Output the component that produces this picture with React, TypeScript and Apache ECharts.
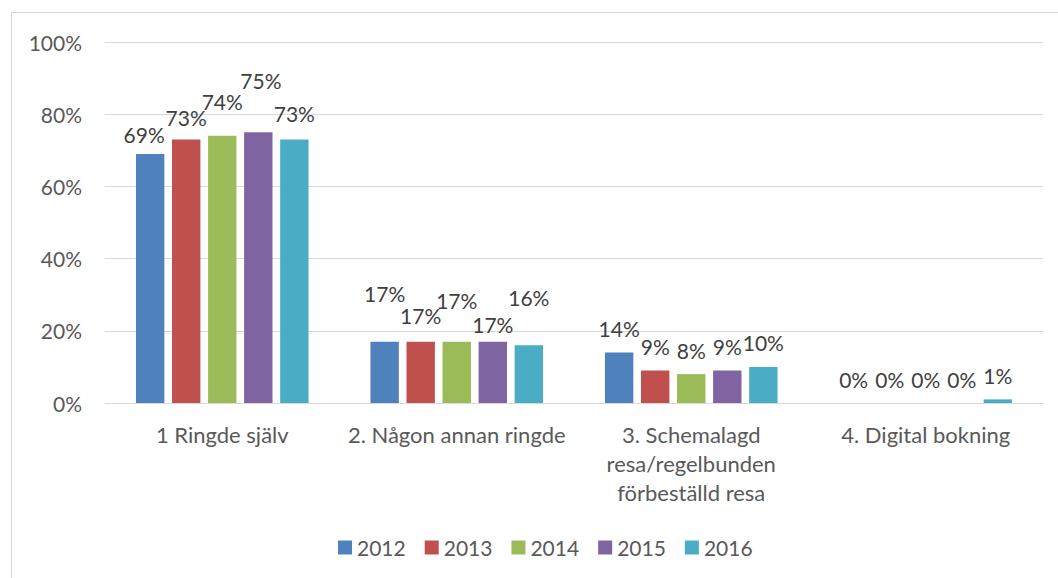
import React, { useEffect, useRef } from "react";
import * as echarts from "echarts";

const categories = [
  "1 Ringde själv",
  "2. Någon annan ringde",
  "3. Schemalagd\nresa/regelbunden\nförbeställd resa",
  "4. Digital bokning",
];
const years = ["2012", "2013", "2014", "2015", "2016"];
const v2012 = [69, 17, 14, 0];
const v2013 = [73, 17, 9, 0];
const v2014 = [74, 17, 8, 0];
const v2015 = [75, 17, 9, 0];
const v2016 = [73, 16, 10, 1];
const yTicks = [0, 20, 40, 60, 80, 100];

const seriesValues = [v2012, v2013, v2014, v2015, v2016];
const colors = ["#4F81BD", "#C0504D", "#9BBB59", "#8064A2", "#4BACC6"];

// manual data-label nudges (layout, per series per category) [dx, dy]
const labelShift: number[][][] = [
  [[-6, 5], [0, -24], [0, 0], [0, 0]],
  [[0, 2.5], [0, -2], [0, 0], [0, 0]],
  [[0, -10], [0, -17], [0, 0], [0, 0]],
  [[2.6, -28], [0, 7], [0, 0], [0, 0]],
  [[0, -1.5], [0, -24], [0, 0], [0, 0]],
];

const FONT = "Lato";

export default function App() {
  const ref = useRef<HTMLDivElement>(null);
  useEffect(() => {
    document.body.style.margin = "0";
    const chart = echarts.init(ref.current!, null, { renderer: "svg" });
    chart.setOption({
      animation: false,
      backgroundColor: "#ffffff",
      textStyle: { fontFamily: FONT },
      graphic: [
        {
          type: "rect",
          shape: { x: 11.5, y: 12.5, width: 1100, height: 700 },
          style: { fill: "none", stroke: "#D9D9D9", lineWidth: 1 },
          silent: true,
        },
      ],
      grid: { left: 105, right: 15, top: 42, bottom: 175, containLabel: false },
      legend: {
        data: years,
        left: 333,
        top: 532,
        icon: "rect",
        itemWidth: 14,
        itemHeight: 14,
        itemGap: 19,
        textStyle: { color: "#595959", fontSize: 21, fontFamily: FONT },
      },
      xAxis: {
        type: "category",
        data: categories,
        axisLine: { lineStyle: { color: "#D9D9D9", width: 1 } },
        axisTick: { show: false },
        axisLabel: {
          interval: 0,
          color: "#595959",
          fontSize: 22,
          lineHeight: 29,
          margin: 17,
          fontFamily: FONT,
        },
      },
      yAxis: {
        type: "value",
        min: 0,
        max: 100,
        interval: 20,
        axisLine: { show: false },
        axisTick: { show: false },
        splitLine: { lineStyle: { color: "#D9D9D9", width: 1 } },
        axisLabel: {
          color: "#595959",
          fontSize: 21,
          margin: 23,
          fontFamily: FONT,
          formatter: (v: number) => (yTicks.includes(v) ? v + "%" : ""),
        },
      },
      series: years.map((y, si) => ({
        name: y,
        type: "bar",
        barGap: "27%",
        barCategoryGap: "26.4%",
        itemStyle: { color: colors[si] },
        label: {
          show: true,
          position: "top",
          distance: 13,
          color: "#404040",
          fontSize: 21,
          lineHeight: 22,
          fontFamily: FONT,
          formatter: (p: any) => p.value + "%",
        },
        data: seriesValues[si].map((v, ci) => ({
          value: v,
          label: { offset: labelShift[si][ci] },
        })),
      })),
    });
    return () => chart.dispose();
  }, []);
  return (
    <div
      ref={ref}
      style={{ position: "absolute", left: 0, top: 0, width: 1058, height: 578 }}
    />
  );
}
